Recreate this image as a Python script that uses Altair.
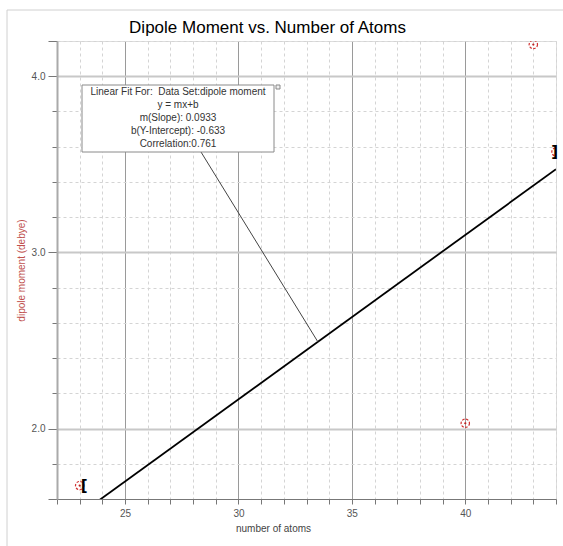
import altair as alt
import pandas as pd

# Measured values
atoms = [23, 40, 43, 44]
dipole = [1.676, 2.03, 4.18, 3.57]

# Linear fit results
slope = 0.0933
intercept = -0.633
correlation = 0.761
fit_range = [23, 44]

# Axis ticks
x_ticks = list(range(22, 45))
y_ticks = [1.6, 1.8, 2.0, 2.2, 2.4, 2.6, 2.8, 3.0, 3.2, 3.4, 3.6, 3.8, 4.0, 4.2]

box_lines = [
    "Linear Fit For:\u00a0 Data Set:dipole moment",
    "y = mx+b",
    f"m(Slope): {slope}",
    f"b(Y-Intercept): {intercept}",
    f"Correlation:{correlation}",
]

FONT = "Liberation Sans"
W, H = 499, 458

points_df = pd.DataFrame({"atoms": atoms, "dipole": dipole})
fit_df = pd.DataFrame({"atoms": fit_range})
bracket_df = pd.DataFrame({
    "atoms": fit_range,
    "dipole": [dipole[atoms.index(v)] for v in fit_range],
})
one = pd.DataFrame({"k": [0]})

x_scale = alt.Scale(domain=[22, 44], nice=False, zero=False)
y_scale = alt.Scale(domain=[1.6, 4.2], nice=False, zero=False)

x_major = "datum.value % 5 === 0"
y_major = "abs(datum.value - round(datum.value)) < 0.01"
y_end = "datum.value < 1.65 || datum.value > 4.15"

x_axis = alt.Axis(
    values=x_ticks,
    labelExpr=f"{x_major} ? datum.label : ''",
    labelOverlap=False,
    labelFlush=False,
    labelPadding=4,
    labelFont=FONT,
    labelFontSize=10,
    labelColor="#555",
    tickSize=5,
    tickColor="#777",
    domainColor="#777",
    gridColor={"condition": {"test": x_major, "value": "#9a9a9a"}, "value": "#d4d4d4"},
    gridDash={"condition": {"test": x_major, "value": []}, "value": [3, 3]},
    title="number of atoms",
    titleFont=FONT,
    titleFontSize=10,
    titleFontWeight="normal",
    titleX=216,
    titleY=32,
    titleBaseline="alphabetic",
    titleColor="#444",
)

y_axis = alt.Axis(
    values=y_ticks,
    labelExpr=f"{y_major} ? format(datum.value, '.1f') : ''",
    labelOverlap=False,
    labelFlush=False,
    labelPadding=3,
    labelFont=FONT,
    labelFontSize=10,
    labelColor="#555",
    tickSize={"condition": {"test": f"{y_major} || {y_end}", "value": 9}, "value": 5},
    tickColor="#777",
    domainColor="#aaa",
    domainWidth=2,
    gridColor={"condition": {"test": y_major, "value": "#c8c8c8"}, "value": "#d4d4d4"},
    gridWidth={"condition": {"test": y_major, "value": 2}, "value": 1},
    gridDash={"condition": {"test": y_major, "value": []}, "value": [3, 3]},
    title="dipole moment (debye)",
    titleFont=FONT,
    titleFontSize=10,
    titleFontWeight="normal",
    titleColor="#c0504d",
    titleX=-36,
    titleY=229,
    titleBaseline="middle",
)

X = alt.X("atoms:Q", scale=x_scale, axis=x_axis)
Y = alt.Y("dipole:Q", scale=y_scale, axis=y_axis)

# Outer frame lines
frame_left = alt.Chart(one).mark_rule(color="#d0d0d0", strokeWidth=1).encode(
    x=alt.value(-50), y=alt.value(-31), y2=alt.value(505)
)
frame_top = alt.Chart(one).mark_rule(color="#d0d0d0", strokeWidth=1).encode(
    x=alt.value(-50), x2=alt.value(506), y=alt.value(-31)
)

# Fit line over the fitted range
fit_line = alt.Chart(fit_df).transform_calculate(
    dipole=f"{slope} * datum.atoms + ({intercept})"
).mark_line(color="black", strokeWidth=1.8, clip=True).encode(x=X, y=Y)

# Data points: dashed red ring with a center dot
rings = alt.Chart(points_df).mark_point(
    shape="circle", size=70, color="#d03030", strokeWidth=1.2, strokeDash=[2.5, 1.5],
    opacity=1, clip=True
).encode(x=X, y=Y)
dots = alt.Chart(points_df).mark_circle(size=5, color="#c02020", opacity=1, clip=True).encode(x=X, y=Y)

# Range brackets at both ends of the fit
left_bracket = alt.Chart(bracket_df.iloc[[0]]).mark_text(
    text="[", align="left", baseline="middle", font="DejaVu Sans", fontSize=15,
    fontWeight="bold", color="black", dx=1
).encode(x=X, y=Y)
right_bracket = alt.Chart(bracket_df.iloc[[1]]).mark_text(
    text="]", align="right", baseline="middle", font="DejaVu Sans", fontSize=15,
    fontWeight="bold", color="black", dx=2
).encode(x=X, y=Y)

# Leader from the annotation box to the fit line
leader = alt.Chart(pd.DataFrame({"atoms": [33.5]})).transform_calculate(
    dipole=f"{slope} * datum.atoms + ({intercept})"
).mark_rule(color="#444", strokeWidth=1).encode(
    x=X, y=Y, x2=alt.value(144), y2=alt.value(111)
)

box = alt.Chart(one).mark_rect(fill="white", stroke="#8a8a8a", strokeWidth=1).encode(
    x=alt.value(25), x2=alt.value(217), y=alt.value(44), y2=alt.value(111)
)
corner = alt.Chart(one).mark_rect(fill="#f0f0f0", stroke="#888", strokeWidth=1).encode(
    x=alt.value(219), x2=alt.value(223), y=alt.value(44), y2=alt.value(48)
)
box_text = alt.Chart(one).mark_text(
    text="\n".join(box_lines), lineBreak="\n", lineHeight=13, align="center", baseline="top",
    font=FONT, fontSize=10, color="#333"
).encode(x=alt.value(121), y=alt.value(46))

chart = alt.layer(
    frame_left, frame_top, fit_line, rings, dots, left_bracket, right_bracket, leader, box, corner, box_text
).properties(
    width=W,
    height=H,
    autosize="none",
    padding={"left": 57, "top": 41, "right": 7, "bottom": 47},
    title=alt.TitleParams(
        "Dipole Moment vs. Number of Atoms", font=FONT, fontSize=17, fontWeight="normal",
        color="black", anchor="middle", dx=-39, offset=-27
    ),
).configure_view(strokeWidth=0).configure(background="white")

chart.save("out.html", embed_options={"renderer": "svg", "actions": False})
